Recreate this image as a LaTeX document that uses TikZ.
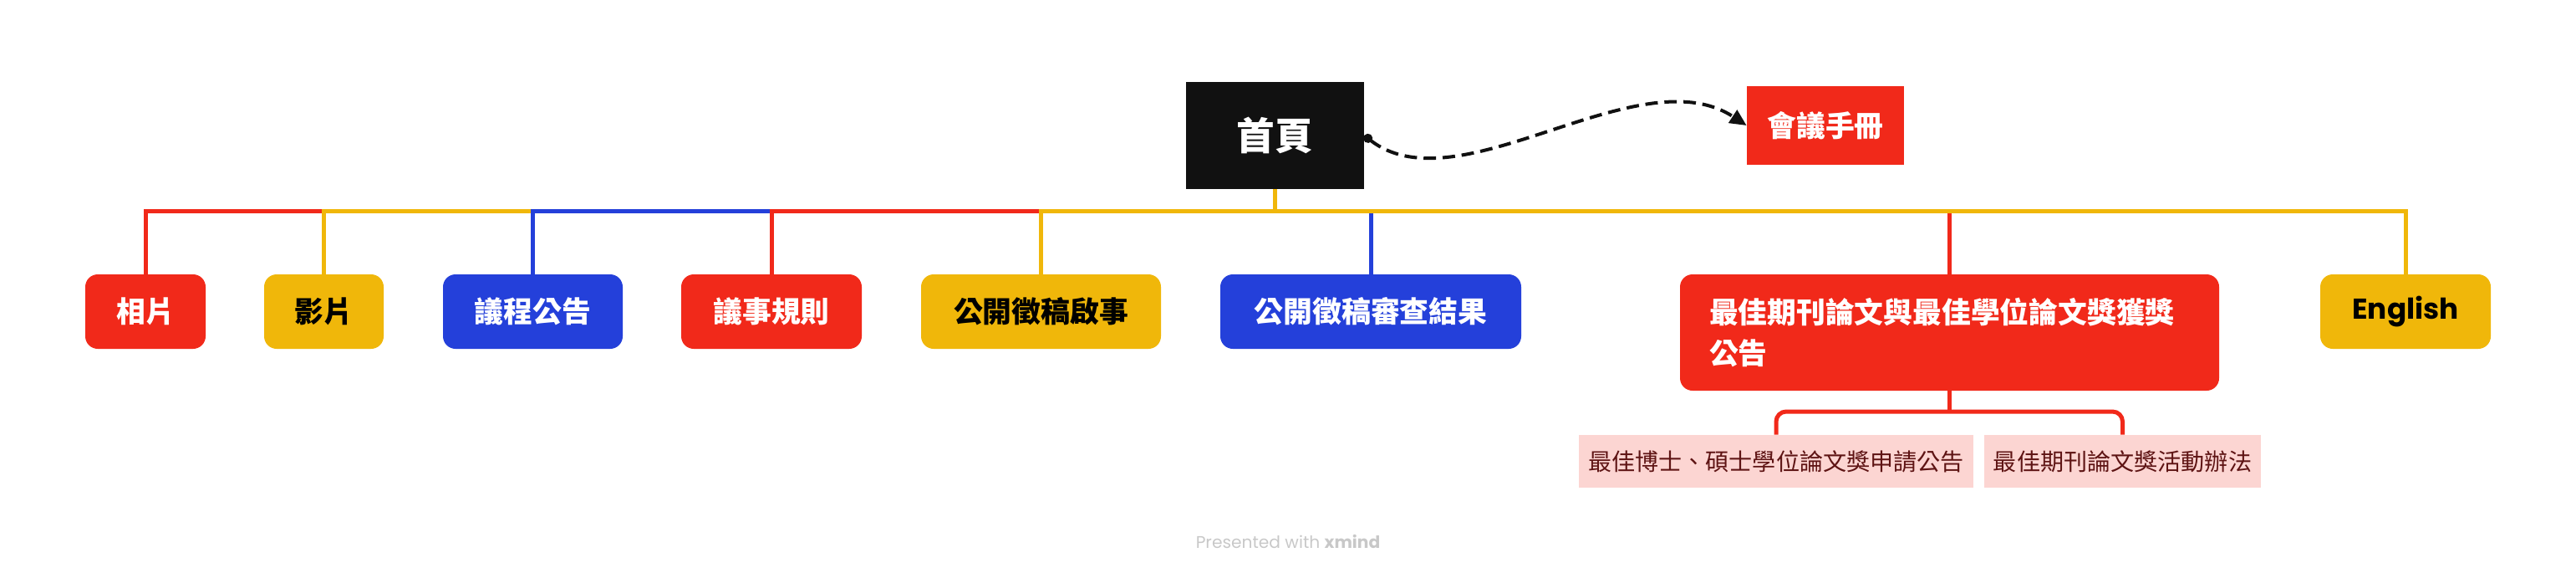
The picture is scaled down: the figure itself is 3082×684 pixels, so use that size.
\documentclass[tikz,border=0pt]{standalone}
\usepackage{fontspec}
\setmainfont{Noto Sans CJK TC}
\newfontfamily\latinfont{Poppins}
\usepackage{xcolor}
\usetikzlibrary{arrows.meta,positioning}

\definecolor{mapred}{HTML}{F1291A}
\definecolor{mapyellow}{HTML}{F0B70A}
\definecolor{mapblue}{HTML}{2440DA}
\definecolor{mapblack}{HTML}{111111}
\definecolor{mappink}{HTML}{FCD5D2}
\definecolor{mapbrown}{HTML}{5E1414}
\definecolor{mapgray}{HTML}{C8C8C8}

\newdimen\px \px=0.02cm

\tikzset{
  home/.style={fill=mapblack, text=white, inner sep=0, minimum width=213\px, minimum height=128\px, font=\bfseries\fontsize{26pt}{30pt}\selectfont},
  manual/.style={fill=mapred, text=white, inner sep=0, minimum width=188\px, minimum height=94\px, font=\bfseries\fontsize{19.8pt}{24pt}\selectfont},
  topic/.style={rounded corners=15\px, inner sep=0, minimum height=89\px, font=\bfseries\fontsize{19.8pt}{24pt}\selectfont},
  subtopic/.style={fill=mappink, text=mapbrown, inner sep=0, minimum height=63\px, font=\fontsize{16pt}{20pt}\selectfont},
  branch/.style={line width=5\px},
  link/.style={line width=4\px, dash pattern=on 8.5pt off 4.5pt, {Circle[length=6.2pt]}-{Triangle[length=11.3pt,width=10.2pt]}}
}

\begin{document}
\begin{tikzpicture}[x=0.02cm, y=-0.02cm]
  \useasboundingbox (0,0) rectangle (3082,684);

  \node[home] (Home) at (1525.5,162) {首頁};
  \node[manual] (Manual) at (2184,150) {會議手冊};

  \node[topic, fill=mapred, text=white, minimum width=144\px] (Photo) at (174,372.5) {相片};
  \node[topic, fill=mapyellow, text=black, minimum width=143\px] (Video) at (387.5,372.5) {影片};
  \node[topic, fill=mapblue, text=white, minimum width=215\px] (Agenda) at (637.5,372.5) {議程公告};
  \node[topic, fill=mapred, text=white, minimum width=216\px] (Rules) at (923,372.5) {議事規則};
  \node[topic, fill=mapyellow, text=black, minimum width=287\px] (Call) at (1245.5,372.5) {公開徵稿啟事};
  \node[topic, fill=mapblue, text=white, minimum width=360\px] (Review) at (1640,372.5) {公開徵稿審查結果};
  \node[topic, fill=mapred, text=white, minimum width=645\px, minimum height=139\px, text width=575\px, align=left,
        font=\bfseries\fontsize{19.8pt}{28.3pt}\selectfont] (Award) at (2332.5,397.5) {最佳期刊論文與最佳學位論文獎獲獎\\公告};
  \node[topic, fill=mapyellow, text=black, minimum width=204\px, font=\latinfont\bfseries\fontsize{19.5pt}{24pt}\selectfont] (English) at (2878,372.5) {English};

  \node[subtopic, minimum width=472\px] (Thesis) at (2125,551.5) {最佳博士、碩士學位論文獎申請公告};
  \node[subtopic, minimum width=331\px] (Journal) at (2539.5,551.5) {最佳期刊論文獎活動辦法};

  \node[text=mapgray, font=\latinfont\fontsize{11.5pt}{14pt}\selectfont] (Credit) at (1541,647) {Presented with \textbf{xmind}};

  \coordinate (Bar) at (0,252);
  \coordinate (SubBar) at (0,492);

  \draw[branch, mapred] (Home.south) -- (Home.south |- Bar) -| (Photo.north);
  \draw[branch, mapyellow] (Home.south) -- (Home.south |- Bar) -| (Video.north);
  \draw[branch, mapblue] (Home.south) -- (Home.south |- Bar) -| (Agenda.north);
  \draw[branch, mapred] (Home.south) -- (Home.south |- Bar) -| (Rules.north);
  \draw[branch, mapyellow] (Home.south) -- (Home.south |- Bar) -| (Call.north);
  \draw[branch, mapblue] (Home.south) -- (Home.south |- Bar) -| (Review.north);
  \draw[branch, mapred] (Home.south) -- (Home.south |- Bar) -| (Award.north);
  \draw[branch, mapyellow] (Home.south) -- (Home.south |- Bar) -| (English.north);

  \draw[branch, mapred] (Award.south) -- (Award.south |- SubBar);
  \draw[branch, mapred, rounded corners=12\px] (Thesis.north) -- (Thesis.north |- SubBar) -- (Journal.north |- SubBar) -- (Journal.north);

  \draw[link, mapblack] (Home.east) .. controls (1745,250) and (1960,65) .. (Manual.west);
\end{tikzpicture}
\end{document}
